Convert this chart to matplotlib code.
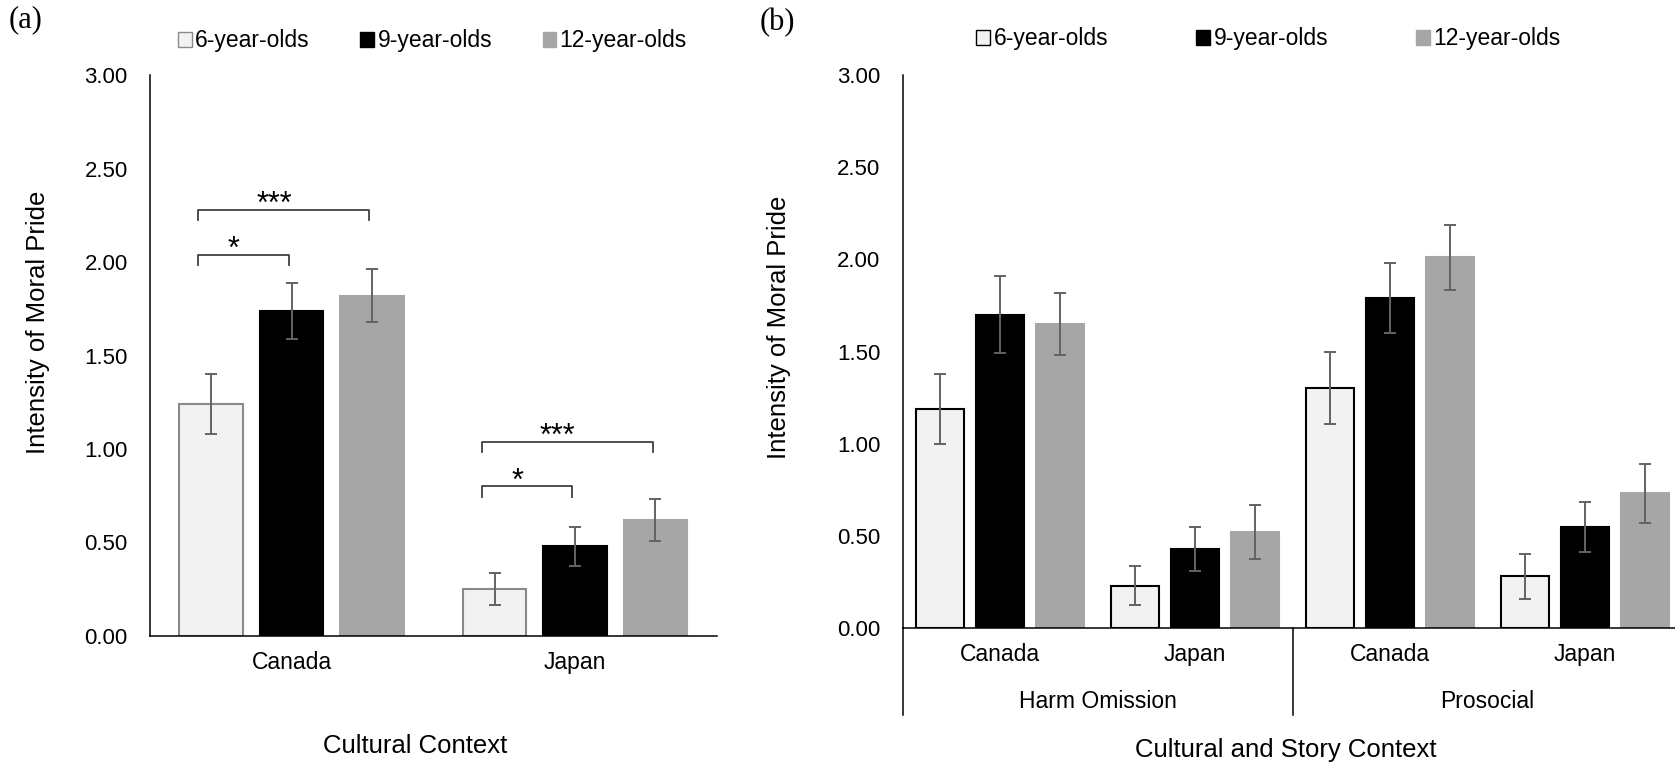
import matplotlib.pyplot as plt
from matplotlib.patches import Patch
import matplotlib.transforms as mtransforms
import numpy as np

plt.rcParams['font.family'] = ['Liberation Sans', 'DejaVu Sans']

# age groups (shared by both panels)
ages = ['6-year-olds', '9-year-olds', '12-year-olds']
fills = ['#f2f2f2', '#000000', '#a6a6a6']

# panel (a): cultural context
countries_a = ['Canada', 'Japan']
a_6yo = [1.24, 0.25]
a_9yo = [1.74, 0.48]
a_12yo = [1.82, 0.62]
a_6yo_err = [0.16, 0.085]
a_9yo_err = [0.15, 0.105]
a_12yo_err = [0.14, 0.11]

# significance brackets in (a): group, from age, to age, level, label
sig_a = [(0, 0, 2, 2.28, '***'),
         (0, 0, 1, 2.04, '*'),
         (1, 0, 2, 1.04, '***'),
         (1, 0, 1, 0.80, '*')]

# panel (b): cultural and story context
countries_b = ['Canada', 'Japan', 'Canada', 'Japan']
stories_b = ['Harm Omission', 'Prosocial']
b_6yo = [1.19, 0.23, 1.30, 0.28]
b_9yo = [1.70, 0.43, 1.79, 0.55]
b_12yo = [1.65, 0.52, 2.01, 0.73]
b_6yo_err = [0.19, 0.105, 0.195, 0.12]
b_9yo_err = [0.21, 0.12, 0.19, 0.135]
b_12yo_err = [0.17, 0.145, 0.175, 0.16]

W, H = 1675, 765
fig = plt.figure(figsize=(W / 100, H / 100), dpi=100)

err_kw = dict(fmt='none', ecolor='#636363', elinewidth=1.4, capsize=4.2, capthick=1.4)


def style_axes(ax, pad_y):
    for s in ['top', 'right']:
        ax.spines[s].set_visible(False)
    ax.spines['left'].set_linewidth(1.1)
    ax.spines['bottom'].set_linewidth(1.1)
    ax.set_ylim(0, 3)
    ax.set_yticks(np.arange(0, 3.01, 0.5))
    ax.set_yticklabels(['%.2f' % v for v in np.arange(0, 3.01, 0.5)])
    ax.tick_params(axis='y', length=0, pad=pad_y, labelsize=16)
    ax.tick_params(axis='x', length=0, pad=11, labelsize=16.5)


# ---------- panel (a)
ax = fig.add_axes([150 / W, 1 - 636 / H, 566.7 / W, 561 / H])
xa = np.arange(len(countries_a))
off_a = [-0.284, 0.0, 0.284]
bw_a = 0.224
vals_a = [a_6yo, a_9yo, a_12yo]
errs_a = [a_6yo_err, a_9yo_err, a_12yo_err]
edges_a = ['#898989', '#000000', '#a6a6a6']
for i in range(3):
    ax.bar(xa + off_a[i], vals_a[i], bw_a, color=fills[i], edgecolor=edges_a[i], linewidth=1.5)
    ax.errorbar(xa + off_a[i], vals_a[i], yerr=errs_a[i], **err_kw)

for g, i, j, lev, lab in sig_a:
    x0 = xa[g] + off_a[i] - 0.045
    x1 = xa[g] + off_a[j] - 0.01
    ax.plot([x0, x0, x1, x1], [lev - 0.055, lev, lev, lev - 0.055], color='#404040', lw=1.3)
    ax.text((x0 + x1) / 2 - 0.035, lev - 0.02, lab, ha='center', va='baseline', fontsize=22)

ax.set_xlim(-0.5, 1.5)
ax.set_xticks(xa)
ax.set_xticklabels(countries_a)
style_axes(ax, 16)
ax.set_ylabel('Intensity of Moral Pride', fontsize=18.5)
ax.yaxis.set_label_coords(-0.176, 0.56)

fig.text(415 / W, 1 - 746 / H, 'Cultural Context', ha='center', va='center', fontsize=18.5)
fig.text(26 / W, 1 - 20 / H, '(a)', ha='center', va='center', fontsize=22,
         family=['Liberation Serif', 'DejaVu Serif'])

handles_a = [Patch(facecolor=fills[i], edgecolor=edges_a[i], linewidth=1) for i in range(3)]
fig.legend(handles_a, ages, loc='center', bbox_to_anchor=(432.5 / W, 1 - 41 / H), ncol=3,
           frameon=False, fontsize=16.5, handlelength=0.6, handleheight=0.6,
           handletextpad=0.15, columnspacing=2.2)

# ---------- panel (b)
ax = fig.add_axes([902.6 / W, 1 - 628 / H, 780 / W, 553 / H])
xb = np.arange(len(countries_b))
off_b = [-0.308, 0.0, 0.308]
bw_b = 0.246
vals_b = [b_6yo, b_9yo, b_12yo]
errs_b = [b_6yo_err, b_9yo_err, b_12yo_err]
edges_b = ['#000000', '#000000', '#a6a6a6']
for i in range(3):
    ax.bar(xb + off_b[i], vals_b[i], bw_b, color=fills[i], edgecolor=edges_b[i], linewidth=1.5)
    ax.errorbar(xb + off_b[i], vals_b[i], yerr=errs_b[i], **err_kw)

ax.set_xlim(-0.5, 3.5)
ax.set_xticks(xb)
ax.set_xticklabels(countries_b)
style_axes(ax, 16)
ax.set_ylabel('Intensity of Moral Pride', fontsize=18.5)
ax.yaxis.set_label_coords(-0.143, 0.544)

# second level of the category axis
trans = mtransforms.blended_transform_factory(ax.transData, ax.transAxes)
n_per = len(countries_b) // len(stories_b)
for k, story in enumerate(stories_b):
    centre = np.mean(xb[k * n_per:(k + 1) * n_per])
    ax.text(centre, -0.133, story, transform=trans, ha='center', va='center', fontsize=16.5)
for k in range(len(stories_b) + 1):
    xs = k * n_per - 0.5
    ax.plot([xs, xs], [0, -0.157], transform=trans, color='black', lw=1.1, clip_on=False)

fig.text(1286 / W, 1 - 750 / H, 'Cultural and Story Context', ha='center', va='center', fontsize=18.5)
fig.text(777 / W, 1 - 23 / H, '(b)', ha='center', va='center', fontsize=22,
         family=['Liberation Serif', 'DejaVu Serif'])

handles_b = [Patch(facecolor=fills[i], edgecolor=edges_b[i], linewidth=1) for i in range(3)]
fig.legend(handles_b, ages, loc='center', bbox_to_anchor=(1268.5 / W, 1 - 39 / H), ncol=3,
           frameon=False, fontsize=16.5, handlelength=0.6, handleheight=0.6,
           handletextpad=0.15, columnspacing=3.85)

fig.savefig('out.png', dpi=100)
